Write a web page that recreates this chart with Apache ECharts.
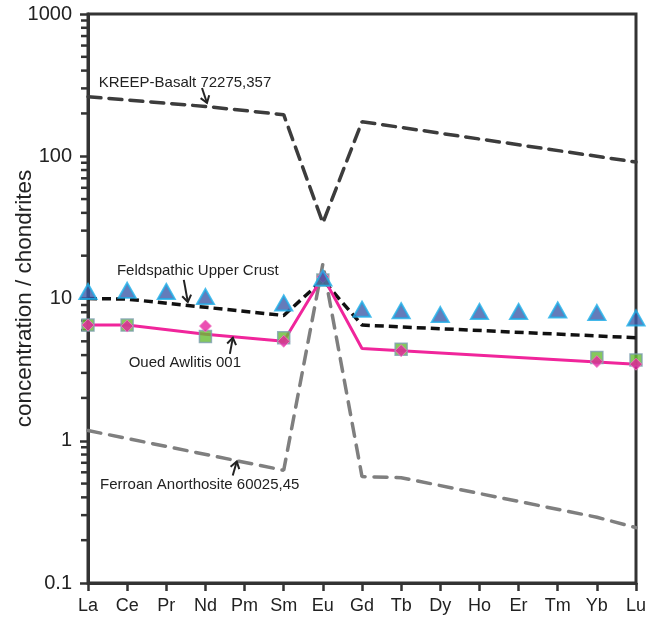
<!DOCTYPE html>
<html>
<head>
<meta charset="utf-8">
<script src="https://cdn.jsdelivr.net/npm/echarts@6/dist/echarts.min.js"></script>
<style>
  html, body { margin: 0; padding: 0; background: #ffffff; }
  #chart { width: 660px; height: 624px; }
</style>
</head>
<body>
<div id="chart"></div>
<script>
// Rare earth elements along the x axis
const elements = ['La', 'Ce', 'Pr', 'Nd', 'Pm', 'Sm', 'Eu', 'Gd', 'Tb', 'Dy', 'Ho', 'Er', 'Tm', 'Yb', 'Lu'];
const yTicks = [0.1, 1, 10, 100, 1000];
const yMinorTicks = [0.2, 0.3, 0.4, 0.5, 0.6, 0.7, 0.8, 0.9,
                     2, 3, 4, 5, 6, 7, 8, 9,
                     20, 30, 40, 50, 60, 70, 80, 90,
                     200, 300, 400, 500, 600, 700, 800, 900];

// Chondrite-normalised abundances (null = no value for that element)
const kreepBasalt        = [262, null, null, 224, null, 196, 34, 175, null, null, null, null, null, null, 91];
const feldspathicCrust   = [10.0, 9.9, null, null, null, 7.6, 13.5, 6.5, null, null, null, null, null, null, 5.3];
const ferroanAnorthosite = [1.18, null, null, null, null, 0.62, 17.5, 0.56, 0.55, null, null, null, null, 0.29, 0.245];
const ouedAwlitisLine    = [6.5, 6.5, null, 5.6, null, 5.0, 14.3, 4.45, null, null, null, null, null, null, 3.45];
const ouedSquares        = [6.5, 6.5, null, 5.4, null, 5.3, 13.5, null, 4.4, null, null, null, null, 3.85, 3.7];
const ouedDiamonds       = [6.5, 6.4, null, 6.4, null, 5.0, 14.2, null, 4.3, null, null, null, null, 3.6, 3.45];
const blueTriangles      = [11.2, 11.4, 11.2, 10.3, null, 9.3, 13.9, 8.4, 8.2, 7.7, 8.1, 8.1, 8.3, 7.95, 7.3];

// Annotation labels and the point each arrow points at (element index, value)
const annotations = [
  { text: 'KREEP-Basalt 72275,357',       tip: [3.04, 237] },
  { text: 'Feldspathic Upper Crust',      tip: [2.55, 9.46] },
  { text: 'Oued Awlitis 001',             tip: [3.70, 5.29] },
  { text: 'Ferroan Anorthosite 60025,45', tip: [3.80, 0.714] }
];
// Pixel offsets of the label centre and the arrow tail relative to the tip
const annotationLayout = [
  { label: [-22, -20], tail: [-5, -15] },
  { label: [10, -31],  tail: [-4, -22] },
  { label: [-48, 25],  tail: [-3, 16] },
  { label: [-37, 23],  tail: [-4, 14] }
];

function pairs(arr) {
  const out = [];
  arr.forEach((v, i) => { if (v != null) out.push([i, v]); });
  return out;
}

const FONT = '"Liberation Sans", Arial, Helvetica, sans-serif';
const AXIS_COLOR = '#333333';

function renderMinorTick(params, api) {
  const p = api.coord([0, api.value(1)]);
  return {
    type: 'line',
    shape: { x1: p[0] - 7, y1: p[1], x2: p[0], y2: p[1] },
    style: { stroke: AXIS_COLOR, lineWidth: 2.5 }
  };
}

function renderAnnotation(params, api) {
  const idx = params.dataIndex;
  const lay = annotationLayout[idx];
  const tip = api.coord([api.value(0), api.value(1)]);
  const tail = [tip[0] + lay.tail[0], tip[1] + lay.tail[1]];
  const dx = tip[0] - tail[0], dy = tip[1] - tail[1];
  const len = Math.sqrt(dx * dx + dy * dy);
  const ux = dx / len, uy = dy / len;
  const headLen = 8, ang = 0.6;
  const arm = (s) => {
    const c = Math.cos(s * ang), sn = Math.sin(s * ang);
    const rx = ux * c - uy * sn, ry = ux * sn + uy * c;
    return [tip[0] - rx * headLen, tip[1] - ry * headLen];
  };
  return {
    type: 'group',
    children: [
      {
        type: 'polyline',
        shape: { points: [tail, tip] },
        style: { stroke: '#222', lineWidth: 2, fill: null }
      },
      {
        type: 'polyline',
        shape: { points: [arm(1), tip, arm(-1)] },
        style: { stroke: '#222', lineWidth: 2, fill: null }
      },
      {
        type: 'text',
        style: {
          text: annotations[idx].text,
          x: tip[0] + lay.label[0],
          y: tip[1] + lay.label[1],
          align: 'center',
          verticalAlign: 'middle',
          font: '15px ' + FONT,
          fill: '#222222'
        }
      }
    ]
  };
}

const chart = echarts.init(document.getElementById('chart'), null, { renderer: 'canvas' });

chart.setOption({
  animation: false,
  backgroundColor: '#ffffff',
  grid: {
    left: 88, right: 24, top: 14, bottom: 41,
    containLabel: false, outerBoundsMode: 'none',
    show: true, borderColor: AXIS_COLOR, borderWidth: 3
  },
  xAxis: {
    type: 'value',
    min: 0, max: elements.length - 1, interval: 1,
    splitLine: { show: false },
    axisLine: { show: true, lineStyle: { color: AXIS_COLOR, width: 3 } },
    axisTick: { show: true, inside: false, length: 8, lineStyle: { color: AXIS_COLOR, width: 2.5 } },
    axisLabel: {
      formatter: (v) => elements[Math.round(v)] || '',
      color: '#222222', fontFamily: FONT, fontSize: 18, margin: 14
    }
  },
  yAxis: {
    type: 'log', logBase: 10,
    min: yTicks[0], max: yTicks[yTicks.length - 1],
    name: 'concentration / chondrites',
    nameLocation: 'middle', nameGap: 52, nameMoveOverlap: false,
    nameTextStyle: { color: '#222222', fontFamily: FONT, fontSize: 22.5 },
    splitLine: { show: false },
    axisLine: { show: true, lineStyle: { color: AXIS_COLOR, width: 3 } },
    axisTick: { show: true, inside: false, length: 8, lineStyle: { color: AXIS_COLOR, width: 2.5 } },
    minorTick: { show: false },
    axisLabel: {
      formatter: (v) => (v >= 1 ? String(Math.round(v)) : v.toFixed(1)),
      color: '#222222', fontFamily: FONT, fontSize: 20, margin: 16
    }
  },
  series: [
    {
      name: 'minor ticks', type: 'custom', silent: true, clip: false,
      renderItem: renderMinorTick,
      data: yMinorTicks.map((v) => [0, v]), z: 1
    },
    {
      name: 'Ferroan Anorthosite 60025,45', type: 'line', data: pairs(ferroanAnorthosite),
      symbol: 'none', lineStyle: { color: '#7f7f7f', width: 3.5, type: [13, 9], cap: 'round' }, z: 2
    },
    {
      name: 'KREEP-Basalt 72275,357', type: 'line', data: pairs(kreepBasalt),
      symbol: 'none', lineStyle: { color: '#3c3c3c', width: 3.5, type: [13, 8], cap: 'round' }, z: 2
    },
    {
      name: 'Feldspathic Upper Crust', type: 'line', data: pairs(feldspathicCrust),
      symbol: 'none', lineStyle: { color: '#111111', width: 3.5, type: [9, 5] }, z: 3
    },
    {
      name: 'Oued Awlitis 001', type: 'line', data: pairs(ouedAwlitisLine),
      symbol: 'none', lineStyle: { color: '#f0259b', width: 3 }, z: 4
    },
    {
      name: 'Oued Awlitis 001 (squares)', type: 'scatter', data: pairs(ouedSquares),
      symbol: 'rect', symbolSize: 12,
      itemStyle: { color: '#66bb33', borderColor: '#7d9fb0', borderWidth: 1.5 }, z: 5
    },
    {
      name: 'Oued Awlitis 001 (diamonds)', type: 'scatter', data: pairs(ouedDiamonds),
      symbol: 'diamond', symbolSize: 12,
      itemStyle: { color: '#e6239f', borderColor: '#f07cc4', borderWidth: 1 }, z: 6
    },
    {
      name: 'triangles', type: 'scatter', data: pairs(blueTriangles),
      symbol: 'triangle', symbolSize: [17, 15],
      itemStyle: { color: '#3d5ba9', borderColor: '#1eaee8', borderWidth: 2 }, z: 7
    },
    {
      name: 'annotations', type: 'custom', silent: true, clip: false,
      renderItem: renderAnnotation,
      data: annotations.map((a) => a.tip), z: 8
    }
  ]
});
</script>
</body>
</html>
